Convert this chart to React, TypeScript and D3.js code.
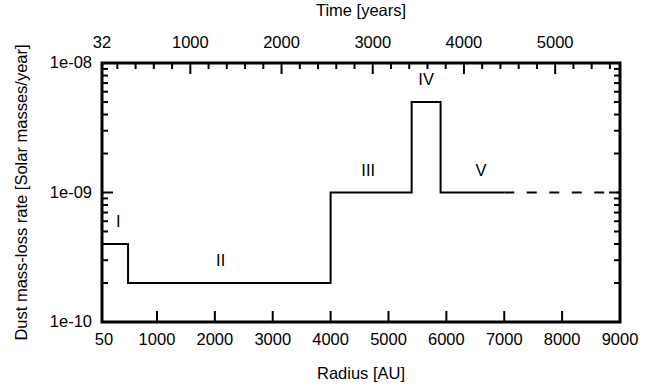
import React from "react";
import * as d3 from "d3";

// Step function: radius (AU) where each phase starts, and the dust mass-loss rate
const stepRadius = [50, 500, 4000, 5400, 5900, 7000];
const stepRate = [4e-10, 2e-10, 1e-9, 5e-9, 1e-9, 1e-9];
// Extrapolated (dashed) part
const dashRadius = [7000, 9000];
const dashRate = [1e-9, 1e-9];

// Phase labels
const phaseNames = ["I", "II", "III", "IV", "V"];
const phaseLabelRadius = [330, 2100, 4650, 5650, 6600];
const phaseLabelRate = [4e-10, 2e-10, 1e-9, 5e-9, 1e-9];

// Axes
const radiusDomain = [50, 9000];
const radiusTicks = [1000, 2000, 3000, 4000, 5000, 6000, 7000, 8000];
const radiusTickLabels = ["50", "1000", "2000", "3000", "4000", "5000", "6000", "7000", "8000", "9000"];
const rateDomain = [1e-10, 1e-8];
const rateMajor = [1e-10, 1e-9, 1e-8];
const rateMajorLabels = ["1e-10", "1e-09", "1e-08"];
const AU_PER_YEAR = 1.576;
const timeTicks = [1000, 2000, 3000, 4000, 5000];
const timeMinorStep = 200;

export default function App() {
  const W = 662, H = 387;
  const L = 102, R = 620, T = 63, B = 322;
  const x = d3.scaleLinear().domain(radiusDomain).range([L, R]);
  const y = d3.scaleLog().domain(rateDomain).range([B, T]);
  const t = d3.scaleLinear().domain([radiusDomain[0] / AU_PER_YEAR, radiusDomain[1] / AU_PER_YEAR]).range([L, R]);

  const line = d3.line<number>().x((_, i) => x(stepRadius[i])).y((d) => y(d)).curve(d3.curveStepAfter);
  const dashLine = d3.line<number>().x((_, i) => x(dashRadius[i])).y((d) => y(d));

  const minorRates: number[] = [];
  for (let e = -10; e < -8; e++) for (let m = 2; m <= 9; m++) minorRates.push(m * Math.pow(10, e));

  const timeMinor: number[] = [];
  for (let v = timeMinorStep; v < t.domain()[1]; v += timeMinorStep) if (v % 1000 !== 0) timeMinor.push(v);

  const font = "'Liberation Sans', Arial, Helvetica, sans-serif";
  const fs = 16.5;
  const bottomLabelVals = [radiusDomain[0], ...radiusTicks, radiusDomain[1]];

  return (
    <svg width={W} height={H} style={{ position: "absolute", left: 0, top: 0, background: "#fff" }} fontFamily={font} fontSize={fs}>
      <rect width={W} height={H} fill="#fff" />
      {/* bottom ticks */}
      {radiusTicks.map((v) => (
        <line key={"bt" + v} x1={x(v)} x2={x(v)} y1={B} y2={B - 11} stroke="#000" strokeWidth={2} />
      ))}
      {/* top ticks */}
      {timeTicks.map((v) => (
        <line key={"tt" + v} x1={t(v)} x2={t(v)} y1={T} y2={T + 11} stroke="#000" strokeWidth={2} />
      ))}
      {timeMinor.map((v) => (
        <line key={"tm" + v} x1={t(v)} x2={t(v)} y1={T} y2={T + 6} stroke="#000" strokeWidth={2} />
      ))}
      {/* left/right ticks */}
      {rateMajor.map((v) => (
        <g key={"ym" + v}>
          <line x1={L} x2={L + 11} y1={y(v)} y2={y(v)} stroke="#000" strokeWidth={2} />
          <line x1={R} x2={R - 11} y1={y(v)} y2={y(v)} stroke="#000" strokeWidth={2} />
        </g>
      ))}
      {minorRates.map((v) => (
        <g key={"yn" + v}>
          <line x1={L} x2={L + 6} y1={y(v)} y2={y(v)} stroke="#000" strokeWidth={2} />
          <line x1={R} x2={R - 6} y1={y(v)} y2={y(v)} stroke="#000" strokeWidth={2} />
        </g>
      ))}
      {/* frame */}
      <rect x={L} y={T} width={R - L} height={B - T} fill="none" stroke="#000" strokeWidth={3} />
      {/* data */}
      <path d={line(stepRate) || ""} fill="none" stroke="#000" strokeWidth={2} />
      <path d={dashLine(dashRate) || ""} fill="none" stroke="#000" strokeWidth={2} strokeDasharray="10 12.5" />
      {/* phase labels */}
      {phaseNames.map((n, i) => (
        <text key={n} x={x(phaseLabelRadius[i])} y={y(phaseLabelRate[i]) - 23} textAnchor="middle" dominantBaseline="central">
          {n}
        </text>
      ))}
      {/* bottom tick labels */}
      {bottomLabelVals.map((v, i) => (
        <text key={"bl" + v} x={x(v) + (i === 0 ? 2 : 0)} y={345} textAnchor="middle">
          {radiusTickLabels[i]}
        </text>
      ))}
      {/* top tick labels */}
      <text x={t(t.domain()[0])} y={48} textAnchor="middle">{d3.format(".0f")(t.domain()[0])}</text>
      {timeTicks.map((v) => (
        <text key={"tl" + v} x={t(v)} y={48} textAnchor="middle">{v}</text>
      ))}
      {/* left tick labels */}
      {rateMajor.map((v, i) => (
        <text key={"yl" + v} x={92} y={y(v) - 1} textAnchor="end" dominantBaseline="central">
          {rateMajorLabels[i]}
        </text>
      ))}
      {/* axis titles */}
      <text x={(L + R) / 2} y={379} textAnchor="middle">Radius [AU]</text>
      <text x={(L + R) / 2} y={16} textAnchor="middle">Time [years]</text>
      <text transform={`translate(27,${(T + B) / 2}) rotate(-90)`} textAnchor="middle">
        Dust mass-loss rate [Solar masses/year]
      </text>
    </svg>
  );
}
